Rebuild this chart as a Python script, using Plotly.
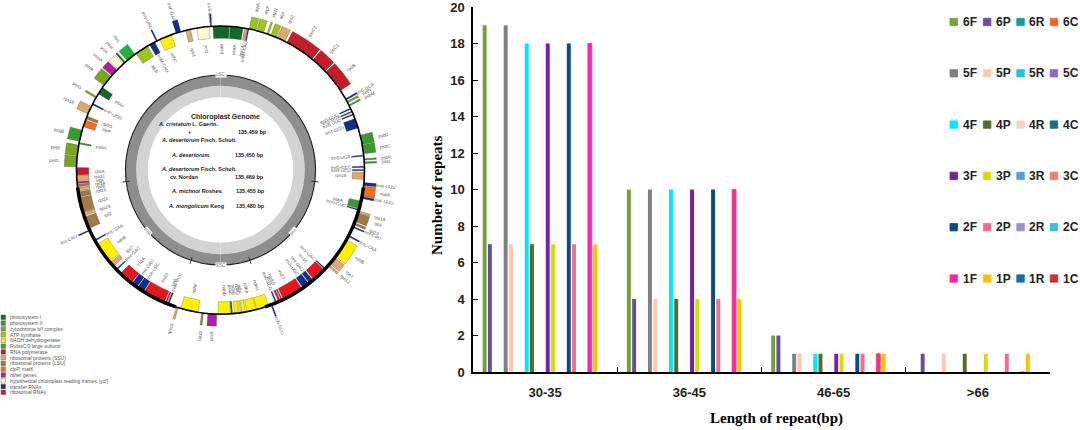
import numpy as np
import plotly.graph_objects as go

# === REPEAT ANALYSIS (right panel) ===
categories = ["30-35", "36-45", "46-65", ">66"]

rep_6F = [19, 10, 2, 0]
rep_6P = [7, 4, 2, 1]
rep_6R = [0, 0, 0, 0]
rep_6C = [0, 0, 0, 0]
rep_5F = [19, 10, 1, 0]
rep_5P = [7, 4, 1, 1]
rep_5R = [0, 0, 0, 0]
rep_5C = [0, 0, 0, 0]
rep_4F = [18, 10, 1, 0]
rep_4P = [7, 4, 1, 1]
rep_4R = [0, 0, 0, 0]
rep_4C = [0, 0, 0, 0]
rep_3F = [18, 10, 1, 0]
rep_3P = [7, 4, 1, 1]
rep_3R = [0, 0, 0, 0]
rep_3C = [0, 0, 0, 0]
rep_2F = [18, 10, 1, 0]
rep_2P = [7, 4, 1, 1]
rep_2R = [0, 0, 0, 0]
rep_2C = [0, 0, 0, 0]
rep_1F = [18, 10, 1, 0]
rep_1P = [7, 4, 1, 1]
rep_1R = [0, 0, 0, 0]
rep_1C = [0, 0, 0, 0]

series_names = ["6F", "6P", "6R", "6C", "5F", "5P", "5R", "5C",
                "4F", "4P", "4R", "4C", "3F", "3P", "3R", "3C",
                "2F", "2P", "2R", "2C", "1F", "1P", "1R", "1C"]
series_values = [rep_6F, rep_6P, rep_6R, rep_6C, rep_5F, rep_5P, rep_5R, rep_5C,
                 rep_4F, rep_4P, rep_4R, rep_4C, rep_3F, rep_3P, rep_3R, rep_3C,
                 rep_2F, rep_2P, rep_2R, rep_2C, rep_1F, rep_1P, rep_1R, rep_1C]
series_colors = ["#77A03A", "#6B4E9B", "#1E98A8", "#F26522",
                 "#7F7F7F", "#FFC9A9", "#2BC0D6", "#8C6BBF",
                 "#00E8FF", "#556B2F", "#F6D3D0", "#17707E",
                 "#7A1FA2", "#D6DC00", "#5B9BD5", "#EB7C7C",
                 "#0B4C80", "#F0708A", "#A58FCB", "#34C3D3",
                 "#FF1FC8", "#FFC000", "#1F6BA8", "#C2362F"]

# === CHLOROPLAST GENOME MAP (left panel) ===
cat_names = ["photosystem I", "photosystem II", "cytochrome b/f complex", "ATP synthase",
             "NADH dehydrogenase", "RubisCO large subunit", "RNA polymerase",
             "ribosomal proteins (SSU)", "ribosomal proteins (LSU)", "clpP, matK",
             "other genes", "hypothetical chloroplast reading frames (ycf)",
             "transfer RNAs", "ribosomal RNAs"]
cat_colors = ["#17662C", "#3A9A2E", "#7BA51E", "#9DC41A", "#FFF000", "#21B03A",
              "#C41E2A", "#DDA86E", "#A07A45", "#F07018", "#B01EA8", "#FFFBCF",
              "#122D8C", "#E8141E"]

# gene blocks: angular start/end (deg, clockwise from top), strand side (+1 out, -1 in), category
gene_names = ["psaB", "psaA", "rps14", "trnfM-CAU", "atpA", "atpF", "atpH", "atpI", "rps2",
              "rpoC2", "rpoC1", "rpoB", "trnC-GCA", "petN", "psbM", "trnD-GUC", "trnY-GUA",
              "trnE-UUC", "trnT-GGU", "psbD", "psbC", "trnS-UGA", "psbK", "psbI", "trnG-GCC",
              "trnR-UCU", "rps16", "trnK-UUU", "matK", "trnK-UUU", "psbA", "trnH-GUG",
              "rps19", "rpl2", "rpl23", "trnI-CAU", "trnL-CAA", "ndhB", "rps7", "rps12",
              "trnV-GAC", "rrn16", "trnI-GAU", "trnA-UGC", "rrn23", "rrn4.5", "rrn5",
              "trnR-ACG", "trnN-GUU", "ndhH", "ndhA", "ndhI", "ndhG", "ndhE", "psaC", "ndhD",
              "ccsA", "rpl32", "ndhF", "rps15", "trnN-GUU", "rrn5", "rrn23", "trnA-UGC",
              "trnI-GAU", "rrn16", "trnV-GAC", "rps7", "ndhB", "trnL-CAA", "trnI-CAU", "rpl2",
              "rps19", "rpl22", "rpl16", "rps8", "rpl14", "infA", "rps11", "rpoA", "petD",
              "petB", "psbH", "psbB", "clpP", "rpl20", "rps18", "trnP-UGG", "petG", "psaJ",
              "petA", "cemA", "ycf4", "psaI", "rbcL", "atpB", "trnM-CAU", "trnV-UAC", "ndhC",
              "trnF-GAA", "rps4", "ycf3", "trnS-GGA"]
gene_start = [-3.0, 3.8, 9.6, 10.9, 11.5, 14.6, 18.8, 20.5, 23.2,
              27.5, 40.0, 47.0, 60.3, 61.5, 63.0, 64.5, 65.8,
              67.0, 69.0, 76.0, 80.0, 84.0, 85.5, 86.8, 88.5,
              89.8, 91.0, 95.0, 96.4, 100.6, 102.5, 105.8,
              106.5, 107.5, 111.5, 113.0, 117.0, 119.0, 127.5, 131.0,
              133.2, 134.0, 140.0, 142.2, 145.5, 154.5, 155.4,
              157.0, 159.0, 160.5, 165.8, 170.0, 171.8, 173.0, 175.2, 176.0,
              181.5, 186.8, 189.0, 197.0, 201.0, 202.0, 203.0, 212.3,
              215.5, 218.3, 226.0, 228.0, 230.5, 240.5, 245.0, 246.0,
              251.5, 253.0, 259.3, 261.6, 263.3, 264.6, 265.6, 268.0, 271.3,
              275.8, 280.4, 281.5, 287.5, 290.8, 293.0, 297.0, 300.0, 302.0,
              306.0, 311.0, 314.5, 318.0, 319.5, 324.0, 330.5, 333.5, 335.0,
              342.0, 346.0, 350.5, 356.0]
gene_end = [3.5, 9.0, 10.7, 11.4, 14.2, 17.4, 19.5, 22.8, 26.6,
            39.5, 46.5, 56.5, 60.9, 62.2, 63.6, 65.0, 66.3,
            67.5, 73.0, 79.8, 83.5, 84.5, 86.1, 87.4, 89.0,
            90.3, 93.8, 96.2, 100.4, 101.4, 105.5, 106.3,
            107.3, 111.0, 112.3, 113.5, 117.5, 127.0, 130.5, 131.8,
            133.7, 139.5, 141.8, 145.0, 154.0, 155.0, 156.2,
            157.5, 159.5, 165.5, 169.5, 171.5, 172.6, 174.5, 175.8, 181.0,
            185.0, 187.5, 196.0, 197.8, 201.6, 202.6, 212.0, 215.2,
            218.0, 224.0, 226.5, 230.0, 239.0, 241.0, 245.5, 251.0,
            252.8, 259.0, 261.3, 263.0, 264.3, 265.3, 267.8, 271.0, 275.5,
            280.0, 281.0, 286.0, 290.3, 292.0, 296.2, 297.6, 300.7, 305.0,
            310.5, 314.0, 317.5, 318.6, 323.5, 329.5, 332.8, 334.0, 340.0,
            344.0, 348.0, 355.5, 356.5]
gene_side = [-1, -1, -1, -1, 1, 1, 1, 1, 1,
             1, 1, 1, 1, 1, 1, -1, -1,
             -1, -1, 1, 1, -1, 1, 1, -1,
             -1, -1, 1, 1, 1, -1, -1,
             1, 1, 1, 1, 1, 1, 1, 1,
             -1, -1, -1, -1, -1, -1, -1,
             -1, 1, -1, -1, -1, -1, -1, -1, -1,
             1, 1, -1, 1, -1, -1, -1, -1,
             -1, -1, -1, -1, -1, -1, 1, -1,
             -1, -1, -1, -1, -1, -1, -1, -1, 1,
             1, -1, 1, -1, -1, 1, -1, 1, -1,
             1, 1, 1, 1, 1, -1, -1, 1, -1,
             1, -1, -1, 1]
gene_cat = [0, 0, 7, 12, 3, 3, 3, 3, 7,
            6, 6, 6, 12, 2, 1, 12, 12,
            12, 12, 1, 1, 12, 1, 1, 12,
            12, 7, 12, 9, 12, 1, 12,
            7, 8, 8, 12, 12, 4, 7, 7,
            12, 13, 12, 12, 13, 13, 13,
            12, 12, 4, 4, 4, 4, 4, 0, 4,
            10, 8, 4, 7, 12, 13, 13, 12,
            12, 13, 12, 7, 4, 12, 12, 8,
            7, 8, 8, 7, 8, 10, 7, 6, 2,
            2, 1, 1, 9, 8, 7, 12, 2, 0,
            2, 10, 11, 0, 5, 3, 12, 12, 4,
            12, 7, 11, 12]

# quadripartite regions: boundaries (deg) and ring thickness
region_names = ["LSC", "IRA", "SSC", "IRB"]
region_start = [-97.0, 97.0, 162.0, 198.0]
region_end = [97.0, 162.0, 198.0, 263.0]
region_label_theta = [0.0, 130.0, 180.0, 230.0]

species_lines = ["<i>A. cristatum</i> L. Gaertn.", "+", "<i>A. desertorum</i> Fisch. Schult.",
                 "<i>A. desertorum</i>", "<i>A. desertorum</i> Fisch. Schult.", "cv. Nordan",
                 "<i>A. michnoi</i> Roshev.", "<i>A. mongolicum</i> Keng"]
genome_sizes = ["135,459 bp", "135,450 bp", "135,469 bp", "135,455 bp", "135,480 bp"]

# === GEOMETRY HELPERS ===
W, H = 1080, 430
CX, CY, RING = 220.5, 170.0, 144.0   # map centre and ring radius in px
RMAX = 1.15


def px(x):
    return x / W


def py(y):
    return 1 - y / H


def note(x, y, text, size, color="#222", family="Liberation Sans", xa="center", ya="middle", **kw):
    font = dict(size=size, color=color, family=family)
    if "weight" in kw:
        font["weight"] = kw.pop("weight")
    return dict(x=px(x), y=py(y), xref="paper", yref="paper", text=text, showarrow=False,
                xanchor=xa, yanchor=ya, font=font, **kw)


fig = go.Figure()

# --- repeat bars ---
for name, vals, col in zip(series_names, series_values, series_colors):
    line = dict(width=0.8, color="#E8501A") if name == "1F" else dict(width=0)
    fig.add_trace(go.Bar(x=categories, y=vals, name=name, marker=dict(color=col, line=line),
                         showlegend=False))

# --- genome map ---
GH = 0.085
gs = np.array(gene_start)
ge = np.array(gene_end)
side = np.array(gene_side)
mid = (gs + ge) / 2
base = np.where(side > 0, 1.0, 1.0 - GH)
fig.add_trace(go.Barpolar(
    theta=mid, width=ge - gs, r=[GH] * len(mid), base=base,
    marker=dict(color=[cat_colors[c] for c in gene_cat], line=dict(color="#444", width=0.3)),
    showlegend=False, hoverinfo="skip"))

# GC content bands and circles
quad = [45, 135, 225, 315]
fig.add_trace(go.Barpolar(theta=quad, width=[90] * 4, r=[0.08] * 4, base=[0.505] * 4,
                          marker=dict(color="#D3D3D3", line=dict(width=0)),
                          showlegend=False, hoverinfo="skip"))
fig.add_trace(go.Barpolar(theta=quad, width=[90] * 4, r=[0.075] * 4, base=[0.585] * 4,
                          marker=dict(color="#8E8E8E", line=dict(width=0)),
                          showlegend=False, hoverinfo="skip"))
fig.add_trace(go.Barpolar(theta=quad, width=[90] * 4, r=[0.008] * 4, base=[0.656] * 4,
                          marker=dict(color="#222", line=dict(width=0)),
                          showlegend=False, hoverinfo="skip"))
fig.add_trace(go.Barpolar(theta=region_start, width=[0.5] * 4, r=[0.05] * 4, base=[0.635] * 4,
                          marker=dict(color="#222", line=dict(width=0)),
                          showlegend=False, hoverinfo="skip"))

# outer ring (thicker on the inverted repeats)
rs = np.array(region_start)
re_ = np.array(region_end)
thick = np.array([0.011, 0.024, 0.011, 0.024])
fig.add_trace(go.Barpolar(theta=(rs + re_) / 2, width=re_ - rs, r=thick, base=1.0 - thick / 2,
                          marker=dict(color="#000", line=dict(width=0)),
                          showlegend=False, hoverinfo="skip"))

annotations = []

# gene labels (radial tiny text), kept inside the page at the top
for nm, m, sd in zip(gene_names, mid, side):
    rl = 1.0 + GH + 0.07 if sd > 0 else 1.0 - GH - 0.075
    t = np.deg2rad(m)
    x = CX + rl * RING * np.sin(t)
    y = CY - rl * RING * np.cos(t)
    half = 1.2 * len(nm) * abs(np.cos(t)) + 2.5
    y = max(y, half + 0.5)
    a = m % 360
    ang = a - 90 if a < 180 else a - 270
    annotations.append(note(x, y, nm, 4.5, color="#555", textangle=ang))

# region labels on inner circle
for nm, th in zip(region_names, region_label_theta):
    t = np.deg2rad(th)
    x = CX + 0.66 * RING * np.sin(t)
    y = CY - 0.66 * RING * np.cos(t)
    ang = th if th <= 90 else (th - 180 if th < 270 else th - 360)
    annotations.append(note(x, y, nm, 4.5, color="#777", textangle=ang, bgcolor="white", borderpad=0))

# central text
annotations.append(note(225, 117, "<b>Chloroplast Genome</b>", 7))
sp_pos = [(188, 124), (189, 132), (199, 140), (190, 155), (199, 169), (184, 177), (197, 191), (196, 206)]
for txt, (x, y) in zip(species_lines, sp_pos):
    annotations.append(note(x, y, "<b>" + txt + "</b>", 5.5))
sz_pos = [(252, 132), (249, 155), (249, 177), (250, 191), (250, 206)]
for txt, (x, y) in zip(genome_sizes, sz_pos):
    annotations.append(note(x, y, "<b>" + txt + "</b>", 5.5))

shapes = []

# functional category legend (bottom-left)
for i, (nm, col) in enumerate(zip(cat_names, cat_colors)):
    yc = 317.3 + i * 5.77
    shapes.append(dict(type="rect", xref="paper", yref="paper", x0=px(1), x1=px(5.5),
                       y0=py(yc + 2.3), y1=py(yc - 2.3), fillcolor=col,
                       line=dict(color="#555", width=0.4)))
    annotations.append(note(7.5, yc, nm, 5, color="#555", xa="left"))

# repeat-type legend (6 rows x 4 columns, top right)
for i, (nm, col) in enumerate(zip(series_names, series_colors)):
    row, colm = divmod(i, 4)
    xl = 950 + colm * 33.4
    yc = 22 + row * 51.3
    shapes.append(dict(type="rect", xref="paper", yref="paper", x0=px(xl), x1=px(xl + 7.5),
                       y0=py(yc + 3.7), y1=py(yc - 3.7), fillcolor=col,
                       line=dict(color="#E8501A" if nm == "1F" else col, width=0.8)))
    annotations.append(note(xl + 10.5, yc, nm, 12, xa="left", weight="bold"))

# axis titles
annotations.append(note(437, 195, "Number of repeats", 15, color="#000", family="Liberation Serif",
                        textangle=-90, weight="bold"))
annotations.append(note(776, 418, "Length of repeat(bp)", 15, color="#000", family="Liberation Serif",
                        weight="bold"))

fig.update_layout(
    width=W, height=H,
    margin=dict(l=0, r=0, t=0, b=0, autoexpand=False),
    paper_bgcolor="white", plot_bgcolor="white",
    barmode="group", bargap=0.125, bargroupgap=0.25,
    xaxis=dict(domain=[px(473), px(1050)], type="category", showline=True, linecolor="#000",
               linewidth=1.5, ticks="inside", tickson="boundaries", ticklen=5, tickcolor="#000",
               tickwidth=1, showgrid=False, ticklabelstandoff=8, automargin=False,
               tickfont=dict(size=13, color="#222", family="Liberation Sans", weight="bold")),
    yaxis=dict(domain=[py(372), py(7)], range=[0, 20], dtick=2, showline=True, linecolor="#000",
               linewidth=1.5, ticks="inside", ticklen=5, tickcolor="#000", tickwidth=1,
               showgrid=False, zeroline=False, ticklabelstandoff=4, automargin=False,
               ticklabeloverflow="allow",
               tickfont=dict(size=13, color="#222", family="Liberation Sans", weight="bold")),
    polar=dict(domain=dict(x=[px(CX - RMAX * RING), px(CX + RMAX * RING)],
                           y=[py(CY + RMAX * RING), py(CY - RMAX * RING)]),
               bgcolor="rgba(0,0,0,0)", barmode="overlay",
               radialaxis=dict(range=[0, RMAX], visible=False),
               angularaxis=dict(visible=False, rotation=90, direction="clockwise")),
    annotations=annotations,
    shapes=shapes,
)

# the page's default body margin would shift the figure; drop it so the figure fills the window
fig.write_html("out.html", config={"displayModeBar": False},
               post_script="document.body.style.margin='0px';")
